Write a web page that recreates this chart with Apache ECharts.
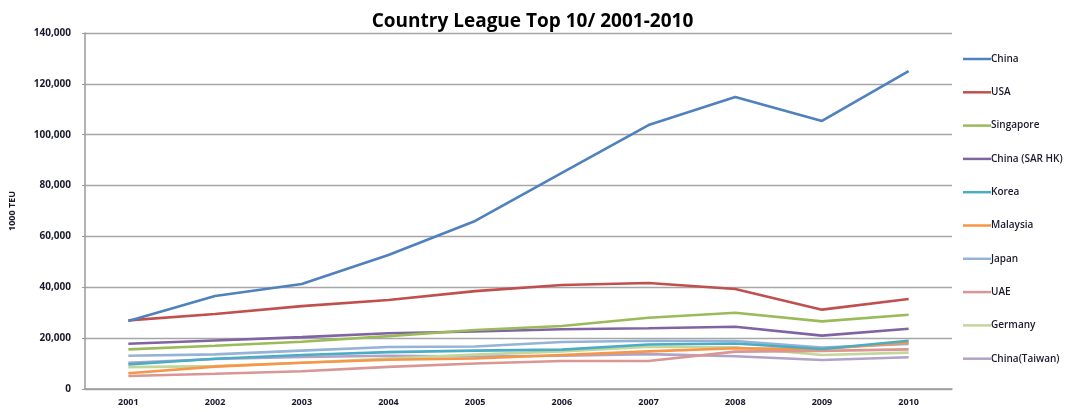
<!DOCTYPE html>
<html><head><meta charset="utf-8">
<script src="https://cdn.jsdelivr.net/npm/echarts@6/dist/echarts.min.js"></script>
<style>html,body{margin:0;padding:0;background:#fff}#c{width:1065px;height:412px}</style>
</head><body><div id="c"></div>
<script>
const years = ['2001','2002','2003','2004','2005','2006','2007','2008','2009','2010'];
const yTicks = [0,20000,40000,60000,80000,100000,120000,140000];
const china = [26700, 36600, 41300, 52700, 66100, 85000, 103800, 114800, 105400, 125000];
const usa = [27000, 29500, 32600, 35000, 38500, 40900, 41700, 39300, 31200, 35400];
const singapore = [15600, 17000, 18600, 20800, 23200, 24800, 28000, 30000, 26600, 29200];
const hk = [17800, 19100, 20400, 21900, 22600, 23500, 23900, 24500, 21000, 23700];
const korea = [9700, 11900, 13400, 14500, 15100, 15500, 17500, 17900, 15700, 19000];
const malaysia = [6200, 8800, 10300, 11500, 12000, 13400, 14800, 16000, 15700, 18200];
const japan = [13100, 13600, 15100, 16500, 16700, 18500, 19000, 18900, 16300, 17700];
const uae = [5100, 6000, 7000, 8700, 10000, 11000, 11000, 14700, 15000, 15600];
const germany = [8600, 9000, 10300, 12000, 13500, 14800, 16600, 16400, 13400, 14300];
const taiwan = [10300, 11800, 12600, 13100, 12800, 13100, 13700, 12900, 11400, 12500];

const names = ['China','USA','Singapore','China (SAR HK)','Korea','Malaysia','Japan','UAE','Germany','China(Taiwan)'];
const values = [china, usa, singapore, hk, korea, malaysia, japan, uae, germany, taiwan];
const colors = ['#4F81BD','#C0504D','#9BBB59','#8064A2','#4BACC6','#F79646','#95B3D7','#D99694','#C3D69B','#B3A2C7'];

const chart = echarts.init(document.getElementById('c'), null, {renderer:'canvas'});
chart.setOption({
  animation: false,
  color: colors,
  title: {
    text: 'Country League Top 10/ 2001-2010',
    left: 'center', top: 7,
    textStyle: {fontFamily: 'Open Sans', fontWeight: 'bold', fontSize: 19, color: '#000'}
  },
  legend: {
    orient: 'vertical', left: 958, top: 49,
    itemWidth: 28, itemHeight: 10, itemGap: 23.3,
    icon: 'path://M0,4 L28,4 L28,6.5 L0,6.5 Z',
    data: names,
    textStyle: {fontFamily: 'Open Sans', fontWeight: 600, fontSize: 10, color: '#1a1a2e', padding: [0,0,0,-5], lineHeight: 10}
  },
  grid: {left: 84, right: 113, top: 33, bottom: 23, containLabel: false},
  xAxis: {
    type: 'category', data: years, boundaryGap: true,
    axisLine: {lineStyle: {color: '#9a9a9a', width: 1.5}},
    axisTick: {show: false},
    axisLabel: {fontFamily: 'Open Sans', fontWeight: 'bold', fontSize: 9, color: '#1a1a2e', margin: 9}
  },
  yAxis: {
    type: 'value', min: 0, max: 140000, interval: 20000,
    name: '1000 TEU', nameLocation: 'middle', nameGap: 68, nameRotate: 90,
    nameTextStyle: {fontFamily: 'Open Sans', fontWeight: 'bold', fontSize: 9, color: '#1a1a2e'},
    axisLine: {show: true, lineStyle: {color: '#9a9a9a', width: 1.5}},
    axisTick: {show: true, length: 3, lineStyle: {color: '#9a9a9a'}},
    splitLine: {lineStyle: {color: '#a6a6a6', width: 1.3}},
    axisLabel: {fontFamily: 'Open Sans', fontWeight: 'bold', fontSize: 10, color: '#1a1a2e', margin: 14,
      formatter: v => yTicks.includes(v) ? v.toLocaleString('en-US') : ''}
  },
  series: names.map((n, i) => ({
    name: n, type: 'line', data: values[i], symbol: 'none',
    lineStyle: {width: 2.6, color: colors[i]}, z: 20 - i
  }))
});
</script></body></html>
